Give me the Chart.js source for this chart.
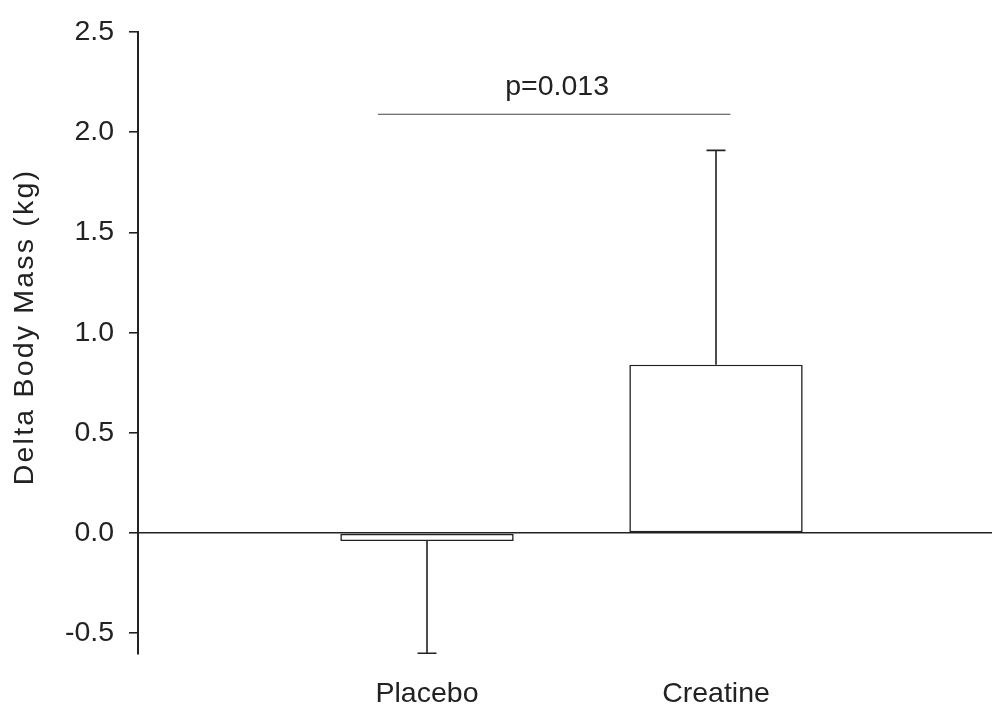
<!DOCTYPE html>
<html>
<head>
<meta charset="utf-8">
<title>Delta Body Mass</title>
<script src="https://cdn.jsdelivr.net/npm/chart.js@4.4.1/dist/chart.umd.min.js"></script>
<style>
  html, body { margin: 0; padding: 0; background: #ffffff; }
  #wrap { width: 993px; height: 706px; }
</style>
</head>
<body>
<div id="wrap"><canvas id="chart" width="993" height="706"></canvas></div>
<script>
// Groups and their positions along the x axis
const categories = ['Placebo', 'Creatine'];
const groupPositions = [1, 2];

// Mean change in body mass (kg) and its standard deviation
const meanChange = [-0.04, 0.84];
const sdChange = [0.56, 1.07];

// Y axis tick values
const yTickValues = [-0.5, 0.0, 0.5, 1.0, 1.5, 2.0, 2.5];

// Between-group comparison bracket
const comparisonSpan = [0.83, 2.05];
const comparisonLevel = 2.09;
const comparisonLabel = 'p=0.013';

const yTitle = 'Delta Body Mass (kg)';

const INK = '#222222';
const FONT_FAMILY = '"Liberation Sans", Arial, Helvetica, sans-serif';
const LABEL_FONT = { family: FONT_FAMILY, size: 28.5 };

// One-sided error bars drawn away from zero, in the direction of the mean
const errorBars = {
  id: 'errorBars',
  afterDatasetsDraw(chart) {
    const { ctx, scales: { x, y } } = chart;
    ctx.save();
    ctx.strokeStyle = INK;
    ctx.lineWidth = 1.6;
    meanChange.forEach((m, i) => {
      const px = x.getPixelForValue(groupPositions[i]);
      const end = m + Math.sign(m) * sdChange[i];
      const y0 = y.getPixelForValue(m);
      const y1 = y.getPixelForValue(end);
      ctx.beginPath();
      ctx.moveTo(px, y0);
      ctx.lineTo(px, y1);
      ctx.moveTo(px - 9.5, y1);
      ctx.lineTo(px + 9.5, y1);
      ctx.stroke();
    });
    ctx.restore();
  }
};

// Comparison line with its p-value above it
const comparison = {
  id: 'comparison',
  afterDatasetsDraw(chart) {
    const { ctx, scales: { x, y } } = chart;
    const x0 = x.getPixelForValue(comparisonSpan[0]);
    const x1 = x.getPixelForValue(comparisonSpan[1]);
    const py = y.getPixelForValue(comparisonLevel);
    ctx.save();
    ctx.strokeStyle = '#444444';
    ctx.lineWidth = 1.2;
    ctx.beginPath();
    ctx.moveTo(x0, py);
    ctx.lineTo(x1, py);
    ctx.stroke();
    ctx.fillStyle = INK;
    ctx.font = `${LABEL_FONT.size}px ${FONT_FAMILY}`;
    ctx.textAlign = 'center';
    ctx.textBaseline = 'alphabetic';
    ctx.fillText(comparisonLabel, (x0 + x1) / 2 + 3, py - 19);
    ctx.restore();
  }
};

// Rotated y axis title
const axisTitle = {
  id: 'axisTitle',
  afterDraw(chart) {
    const { ctx } = chart;
    ctx.save();
    ctx.translate(25, 327);
    ctx.rotate(-Math.PI / 2);
    ctx.fillStyle = INK;
    ctx.font = `${LABEL_FONT.size}px ${FONT_FAMILY}`;
    if ('letterSpacing' in ctx) ctx.letterSpacing = '2.2px';
    ctx.textAlign = 'center';
    ctx.textBaseline = 'middle';
    ctx.fillText(yTitle, 0, 0);
    ctx.restore();
  }
};

new Chart(document.getElementById('chart'), {
  type: 'bar',
  data: {
    datasets: [{
      data: groupPositions.map((p, i) => ({ x: p, y: meanChange[i] })),
      backgroundColor: '#ffffff',
      borderColor: INK,
      borderWidth: 1.6,
      borderSkipped: false,
      categoryPercentage: 1.0,
      barPercentage: 0.6
    }]
  },
  options: {
    responsive: false,
    devicePixelRatio: 1,
    animation: false,
    layout: { padding: { top: 28, right: 1, bottom: 0, left: 0 } },
    plugins: {
      legend: { display: false },
      tooltip: { enabled: false }
    },
    scales: {
      x: {
        type: 'linear',
        min: 0,
        max: 2.955,
        offset: false,
        afterBuildTicks(scale) {
          scale.ticks = groupPositions.map(v => ({ value: v }));
        },
        afterFit(scale) { scale.height = 52.7; },
        border: { display: false },
        grid: { display: false, drawTicks: false, offset: false },
        ticks: {
          autoSkip: false,
          maxRotation: 0,
          padding: 24,
          color: INK,
          font: LABEL_FONT,
          callback: (v) => categories[groupPositions.indexOf(v)] ?? ''
        }
      },
      y: {
        min: -0.6,
        max: 2.5,
        afterBuildTicks(scale) {
          scale.ticks = yTickValues.map(v => ({ value: v }));
        },
        afterFit(scale) { scale.width = 138; },
        border: { display: true, color: INK, width: 2 },
        grid: {
          drawOnChartArea: true,
          color: (c) => (c.tick && c.tick.value === 0 ? INK : 'rgba(0,0,0,0)'),
          lineWidth: 1.6,
          drawTicks: true,
          tickLength: 9,
          tickColor: INK,
          tickWidth: 1.6
        },
        ticks: {
          padding: 15,
          color: INK,
          font: LABEL_FONT,
          callback: (v) => Number(v).toFixed(1)
        }
      }
    }
  },
  plugins: [errorBars, comparison, axisTitle]
});
</script>
</body>
</html>
